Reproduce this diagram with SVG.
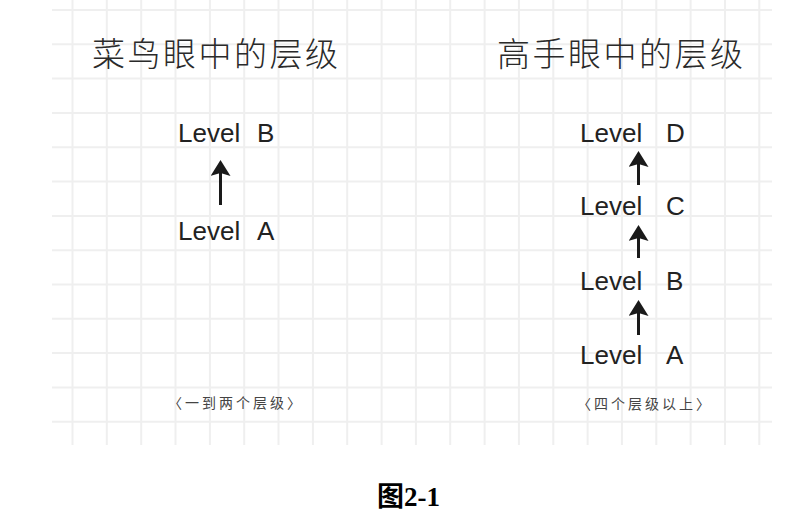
<svg xmlns="http://www.w3.org/2000/svg" width="786" height="526" viewBox="0 0 786 526">
<style>
.grid{fill:none;stroke:#efefef;stroke-width:2}
.title{font-family:"Noto Sans CJK SC","Noto Sans",sans-serif;font-size:33px;font-weight:300;fill:#2a2a2a;letter-spacing:2.5px}
.lvl{font-family:"Liberation Sans","DejaVu Sans",sans-serif;font-size:26px;fill:#222}
.sub{font-family:"Noto Sans CJK SC","Noto Sans",sans-serif;font-size:14px;fill:#444;letter-spacing:3px}
.cap{font-family:"Liberation Serif","Noto Sans CJK SC",serif;font-size:27px;font-weight:bold;fill:#000}
.arr{stroke:#1a1a1a;stroke-width:3;fill:none;marker-end:url(#head)}
</style>
<defs>
<marker id="head" markerUnits="userSpaceOnUse" markerWidth="16" markerHeight="20" viewBox="0 0 16 20" refX="3" refY="10" orient="auto">
<path d="M0,0 L16,10 L0,20 L3,10 Z" fill="#1a1a1a"/>
</marker>
</defs>
<rect width="786" height="526" fill="#fff"/>
<path class="grid" d="M72.5,0V445M106.8,0V445M141.2,0V445M175.5,0V445M209.9,0V445M244.2,0V445M278.5,0V445M312.9,0V445M347.2,0V445M381.6,0V445M415.9,0V445M450.2,0V445M484.6,0V445M518.9,0V445M553.3,0V445M587.6,0V445M621.9,0V445M656.3,0V445M690.6,0V445M725,0V445M759.3,0V445M52,10H772M52,44.3H772M52,78.6H772M52,112.9H772M52,147.2H772M52,181.6H772M52,215.9H772M52,250.2H772M52,284.5H772M52,318.8H772M52,353.1H772M52,387.4H772M52,421.7H772"/>
<g id="title-left"><text class="title" x="92" y="66">菜鸟眼中的层级</text></g>
<g id="title-right"><text class="title" x="497" y="66">高手眼中的层级</text></g>
<g id="left-level-b"><text class="lvl" x="178" y="141.5">Level</text><text class="lvl" x="257" y="141.5">B</text></g>
<g id="left-level-a"><text class="lvl" x="178" y="240">Level</text><text class="lvl" x="257" y="240">A</text></g>
<g id="right-level-d"><text class="lvl" x="580" y="141.5">Level</text><text class="lvl" x="666" y="141.5">D</text></g>
<g id="right-level-c"><text class="lvl" x="580" y="215">Level</text><text class="lvl" x="666" y="215">C</text></g>
<g id="right-level-b"><text class="lvl" x="580" y="289.5">Level</text><text class="lvl" x="666" y="289.5">B</text></g>
<g id="right-level-a"><text class="lvl" x="580" y="364">Level</text><text class="lvl" x="666" y="364">A</text></g>
<g id="connectors">
<line class="arr" x1="220.5" y1="205" x2="220.5" y2="173"/>
<line class="arr" x1="638.5" y1="185" x2="638.5" y2="164"/>
<line class="arr" x1="638.5" y1="258" x2="638.5" y2="238"/>
<line class="arr" x1="638.5" y1="335" x2="638.5" y2="313"/>
</g>
<g id="sub-left"><text class="sub" x="168" y="408">〈一到两个层级〉</text></g>
<g id="sub-right"><text class="sub" x="577" y="409">〈四个层级以上〉</text></g>
<g id="caption"><text class="cap" x="377" y="506">图2-1</text></g>
</svg>
